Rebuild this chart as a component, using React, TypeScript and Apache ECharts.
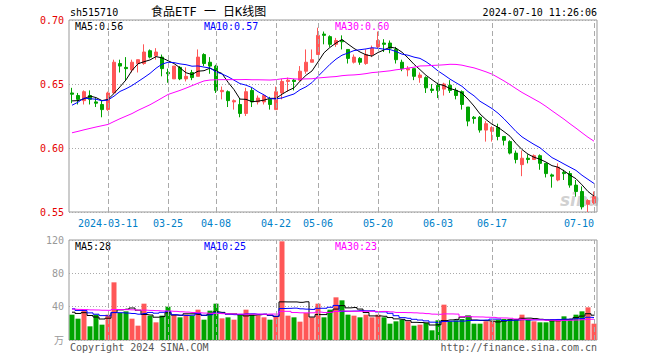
import React, { useEffect, useRef } from "react";
import * as echarts from "echarts";

const dates = [
  "2024-03-01","2024-03-04","2024-03-05","2024-03-06","2024-03-07","2024-03-08","2024-03-11","2024-03-12","2024-03-13","2024-03-14",
  "2024-03-15","2024-03-18","2024-03-19","2024-03-20","2024-03-21","2024-03-22","2024-03-25","2024-03-26","2024-03-27","2024-03-28",
  "2024-03-29","2024-04-01","2024-04-02","2024-04-03","2024-04-08","2024-04-09","2024-04-10","2024-04-11","2024-04-12","2024-04-15",
  "2024-04-16","2024-04-17","2024-04-18","2024-04-19","2024-04-22","2024-04-23","2024-04-24","2024-04-25","2024-04-26","2024-04-29",
  "2024-04-30","2024-05-06","2024-05-07","2024-05-08","2024-05-09","2024-05-10","2024-05-13","2024-05-14","2024-05-15","2024-05-16",
  "2024-05-17","2024-05-20","2024-05-21","2024-05-22","2024-05-23","2024-05-24","2024-05-27","2024-05-28","2024-05-29","2024-05-30",
  "2024-05-31","2024-06-03","2024-06-04","2024-06-05","2024-06-06","2024-06-07","2024-06-11","2024-06-12","2024-06-13","2024-06-14",
  "2024-06-17","2024-06-18","2024-06-19","2024-06-20","2024-06-21","2024-06-24","2024-06-25","2024-06-26","2024-06-27","2024-06-28",
  "2024-07-01","2024-07-02","2024-07-03","2024-07-04","2024-07-05","2024-07-08","2024-07-09","2024-07-10"
];

const opens = [
  0.643,0.641,0.637,0.641,0.636,0.634,0.630,0.643,0.666,0.663,
  0.661,0.666,0.666,0.676,0.672,0.671,0.659,0.654,0.663,0.654,
  0.659,0.656,0.673,0.667,0.664,0.644,0.644,0.636,0.634,0.627,
  0.645,0.636,0.636,0.638,0.630,0.643,0.652,0.653,0.653,0.660,
  0.667,0.673,0.689,0.687,0.681,0.684,0.677,0.667,0.670,0.666,
  0.673,0.679,0.682,0.682,0.677,0.667,0.661,0.662,0.655,0.655,
  0.646,0.649,0.646,0.649,0.645,0.644,0.632,0.624,0.624,0.614,
  0.613,0.616,0.609,0.605,0.596,0.587,0.592,0.591,0.594,0.588,
  0.579,0.575,0.581,0.580,0.571,0.566,0.556,0.557
];
const closes = [
  0.642,0.638,0.644,0.638,0.635,0.630,0.643,0.667,0.664,0.662,
  0.667,0.669,0.675,0.671,0.675,0.662,0.658,0.664,0.654,0.656,
  0.655,0.671,0.666,0.664,0.645,0.645,0.637,0.637,0.627,0.644,
  0.636,0.639,0.641,0.634,0.644,0.652,0.653,0.652,0.660,0.667,
  0.669,0.688,0.688,0.681,0.684,0.683,0.670,0.671,0.667,0.673,
  0.678,0.684,0.681,0.678,0.669,0.662,0.662,0.656,0.657,0.647,
  0.645,0.645,0.650,0.645,0.641,0.634,0.621,0.623,0.614,0.619,
  0.616,0.609,0.606,0.596,0.591,0.592,0.591,0.594,0.588,0.580,
  0.578,0.585,0.580,0.571,0.566,0.554,0.559,0.562
];
const lows = [
  0.635,0.634,0.634,0.634,0.632,0.624,0.629,0.643,0.659,0.653,
  0.659,0.659,0.665,0.670,0.669,0.656,0.651,0.654,0.653,0.652,
  0.653,0.656,0.664,0.658,0.643,0.638,0.632,0.630,0.624,0.625,
  0.632,0.634,0.634,0.630,0.630,0.638,0.644,0.645,0.652,0.658,
  0.667,0.673,0.681,0.679,0.679,0.677,0.666,0.666,0.665,0.665,
  0.671,0.678,0.675,0.674,0.666,0.660,0.656,0.653,0.651,0.643,
  0.643,0.639,0.641,0.643,0.638,0.630,0.617,0.619,0.612,0.605,
  0.605,0.606,0.602,0.595,0.588,0.578,0.588,0.591,0.583,0.577,
  0.569,0.574,0.575,0.569,0.562,0.552,0.550,0.556
];
const highs = [
  0.647,0.643,0.645,0.645,0.639,0.637,0.644,0.669,0.669,0.671,
  0.669,0.669,0.681,0.677,0.678,0.673,0.662,0.664,0.664,0.663,
  0.661,0.677,0.674,0.671,0.665,0.648,0.645,0.638,0.639,0.647,
  0.647,0.641,0.642,0.640,0.648,0.654,0.655,0.654,0.664,0.677,
  0.677,0.694,0.691,0.688,0.686,0.688,0.677,0.673,0.671,0.677,
  0.680,0.691,0.685,0.684,0.679,0.669,0.664,0.662,0.659,0.656,
  0.650,0.651,0.651,0.653,0.647,0.645,0.632,0.625,0.625,0.621,
  0.617,0.619,0.609,0.606,0.598,0.598,0.595,0.595,0.595,0.588,
  0.580,0.588,0.583,0.582,0.575,0.570,0.560,0.566
];
const volumes = [
  30.4,25.6,35.2,16.4,30.4,18.4,30.4,69.2,32.4,34.4,
  25.6,17.2,43.6,29.2,21.2,29.2,40,30.4,27.2,30.4,
  29.2,36.4,24.4,35.2,43.6,26,27.2,24.4,30.4,36.4,
  30.4,29.6,27.2,24.4,29.2,118.4,29.2,27.2,22,32.4,
  27.2,43.6,27.2,36.4,51.2,47.6,30.4,29.2,27.2,30.4,
  27.2,30.4,27.2,19.6,22.4,24.4,22.4,17.2,18.4,20.4,
  11.6,23.6,42.4,22.4,23.6,25.2,29.2,19.6,19.6,22.4,
  22.4,24.4,25.2,25.2,25.2,30.4,25.2,22.4,21.2,21.2,
  25.2,25.2,28.4,25.2,30.4,34.4,39.2,19.6
];
// sessions before 2024-03-01 (off-screen), only feeding the moving averages
const priorCloses = [
  0.605,0.608,0.605,0.602,0.600,0.613,0.598,0.598,0.602,0.607,
  0.594,0.609,0.605,0.597,0.581,0.577,0.616,0.606,0.602,0.598,
  0.614,0.612,0.643,0.639,0.642,0.637,0.637,0.627,0.641
];
const priorVolumes = [
  34.6,41.2,28.4,33.4,27.4,33.4,39.2,35.4,37.4,31.6,
  29.2,43.6,38.2,30.2,38.2,43,42.4,42.2,42.4,44.2,
  45.4,36.4,44.2,46.6,35,33.2,30.4,33.4,39.4
];
const labelIdx = [6, 16, 24, 34, 41, 51, 61, 70, 87];
const priceMaLegend = ["0.56", "0.57", "0.60"];
const volMaLegend = ["28", "25", "23"];
const maPeriods = [5, 10, 30];
const maColors = ["#000000", "#0000ff", "#ff00ff"];
const stockCode = "sh515710";
const titleText = "食品ETF 一 日K线图";
const stampText = "2024-07-10 11:26:06";

const RED = "#ff5757";
const GREEN = "#00a400";
const MONO = "'DejaVu Sans Mono', 'Noto Sans CJK SC', monospace";

function movingAvg(series: number[], prior: number[], n: number): number[] {
  const all = prior.concat(series);
  return series.map((_, i) => {
    const end = prior.length + i;
    let s = 0;
    for (let k = end - n + 1; k <= end; k++) s += all[k];
    return +(s / n).toFixed(4);
  });
}

export default function App() {
  const ref = useRef<HTMLDivElement>(null);
  useEffect(() => {
    document.body.style.margin = "0";
    const chart = echarts.init(ref.current!, null, { renderer: "svg" });
    const candle = dates.map((_, i) => [opens[i], closes[i], lows[i], highs[i]]);
    const up = dates.map((_, i) => closes[i] >= opens[i]);
    const priceMA = maPeriods.map((p) => movingAvg(closes, priorCloses, p));
    const volMA = maPeriods.map((p) => movingAvg(volumes, priorVolumes, p));
    const gridLineData = labelIdx.map((i) => ({ xAxis: dates[i] }));
    const vLine = {
      symbol: "none",
      silent: true,
      label: { show: false },
      lineStyle: { color: "#aaaaaa", type: [5, 3], width: 1 },
      data: gridLineData,
    };
    const txt = (text: string, x: number, y: number, fill: string, align = "left", size = 10) => ({
      type: "text",
      x,
      y,
      silent: true,
      style: { text, fill, align, verticalAlign: "middle", font: `${size}px ${MONO}` },
    });
    const legendX = [75, 204, 335];

    chart.setOption({
      animation: false,
      grid: [
        { left: 69, top: 20, width: 528, height: 192, show: true, borderColor: "#999", borderWidth: 1 },
        { left: 69, top: 240, width: 528, height: 100, show: true, borderColor: "#999", borderWidth: 1 },
      ],
      xAxis: [
        {
          type: "category",
          gridIndex: 0,
          data: dates,
          boundaryGap: true,
          axisLine: { show: false },
          axisTick: { show: false },
          splitLine: { show: false },
          axisLabel: {
            interval: (index: number) => labelIdx.includes(index),
            formatter: (v: string, index: number) => (index === labelIdx[0] ? v : v.slice(5)),
            color: "#0080c8",
            fontFamily: MONO,
            fontSize: 10,
            margin: 6,
            alignMaxLabel: "right",
            hideOverlap: false,
          },
        },
        {
          type: "category",
          gridIndex: 1,
          data: dates,
          boundaryGap: true,
          axisLine: { show: false },
          axisTick: { show: false },
          splitLine: { show: false },
          axisLabel: { show: false },
        },
      ],
      yAxis: [
        {
          type: "value",
          gridIndex: 0,
          min: 0.55,
          max: 0.7,
          interval: 0.05,
          axisLine: { show: false },
          axisTick: { show: false },
          axisLabel: {
            formatter: (v: number) => v.toFixed(2),
            color: "#e60000",
            fontFamily: MONO,
            fontSize: 10,
            margin: 5,
          },
          splitLine: { show: true, lineStyle: { color: "#aaaaaa", type: [1, 2] } },
        },
        {
          type: "value",
          gridIndex: 1,
          min: 0,
          max: 120,
          interval: 40,
          axisLine: { show: false },
          axisTick: { show: false },
          axisLabel: {
            formatter: (v: number) => (v === 0 ? "万" : String(v)),
            color: "#999999",
            fontFamily: MONO,
            fontSize: 10,
            margin: 5,
          },
          splitLine: { show: true, lineStyle: { color: "#aaaaaa", type: [1, 2] } },
        },
      ],
      series: [
        {
          type: "line",
          xAxisIndex: 0,
          yAxisIndex: 0,
          data: dates.map(() => "-"),
          showSymbol: false,
          z: 1,
          markLine: vLine,
        },
        {
          type: "line",
          xAxisIndex: 1,
          yAxisIndex: 1,
          data: dates.map(() => "-"),
          showSymbol: false,
          z: 1,
          markLine: vLine,
        },
        {
          type: "candlestick",
          xAxisIndex: 0,
          yAxisIndex: 0,
          data: candle,
          barWidth: 4,
          z: 3,
          itemStyle: { color: RED, color0: GREEN, borderColor: RED, borderColor0: GREEN, borderWidth: 1 },
        },
        ...priceMA.map((d, k) => ({
          type: "line",
          xAxisIndex: 0,
          yAxisIndex: 0,
          data: d,
          showSymbol: false,
          silent: true,
          z: 4,
          lineStyle: { color: maColors[k], width: 1 },
        })),
        {
          type: "bar",
          xAxisIndex: 1,
          yAxisIndex: 1,
          barWidth: 5,
          z: 3,
          data: volumes.map((v, i) => ({ value: v, itemStyle: { color: up[i] ? RED : GREEN } })),
        },
        ...volMA.map((d, k) => ({
          type: "line",
          xAxisIndex: 1,
          yAxisIndex: 1,
          data: d,
          step: "middle",
          showSymbol: false,
          silent: true,
          z: 4,
          lineStyle: { color: maColors[k], width: 1 },
        })),
      ],
      graphic: [
        txt(stockCode, 70, 12, "#000"),
        txt(titleText, 151, 12, "#000", "left", 12),
        txt(stampText, 597, 12, "#000", "right"),
        ...maPeriods.map((p, k) => txt(`MA${p}:${priceMaLegend[k]}`, legendX[k], 26, maColors[k])),
        ...maPeriods.map((p, k) => txt(`MA${p}:${volMaLegend[k]}`, legendX[k], 246, maColors[k])),
        txt("Copyright 2024 SINA.COM", 70, 347, "#555"),
        txt("http://finance.sina.com.cn", 597, 347, "#555", "right"),
        {
          type: "text",
          x: 560,
          y: 200,
          silent: true,
          z: 0,
          style: {
            text: "sina",
            fill: "rgba(150,150,150,0.45)",
            verticalAlign: "middle",
            font: "italic bold 17px 'DejaVu Sans'",
          },
        },
      ],
    });
    return () => chart.dispose();
  }, []);
  return <div ref={ref} style={{ position: "absolute", left: 0, top: 0, width: 660, height: 360 }} />;
}
